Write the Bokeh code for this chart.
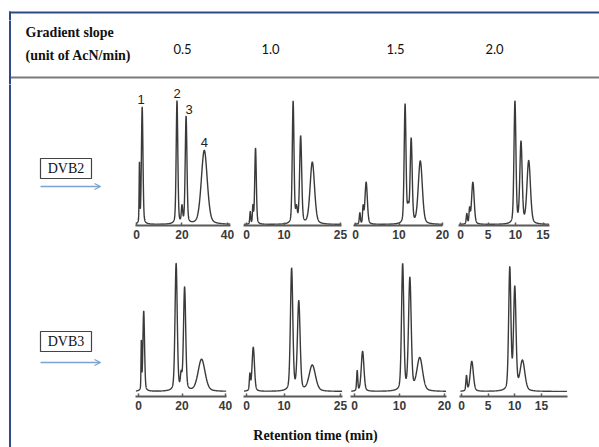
import numpy as np
from bokeh.plotting import figure
from bokeh.layouts import column, row
from bokeh.models import Range1d, FixedTicker, Arrow, OpenHead, ColumnDataSource
from bokeh.embed import file_html
from bokeh.resources import INLINE
from bokeh.core.properties import value

# ---------------- data ----------------
slopes = ["0.5", "1.0", "1.5", "2.0"]
resins = ["DVB2", "DVB3"]
peak_names = ["1", "2", "3", "4"]

ticks_05 = [0, 20, 40]
ticks_10 = [0, 10, 25]
ticks_15 = [0, 10, 20]
ticks_20 = [0, 5, 10, 15]

# DVB2 chromatograms: retention time (min), height (a.u.), FWHM (min)
dvb2_05_t = [1.3, 2.5, 17.8, 20.0, 21.8, 29.8]
dvb2_05_h = [59, 117, 123, 16, 107, 74]
dvb2_05_w = [0.35, 0.8, 0.85, 0.7, 0.9, 3.1]

dvb2_10_t = [1.0, 1.7, 2.4, 12.4, 13.3, 14.4, 17.5]
dvb2_10_h = [12, 17, 76, 122, 14, 87, 62]
dvb2_10_w = [0.3, 0.3, 0.5, 0.55, 0.5, 0.65, 1.4]

dvb2_15_t = [1.0, 1.75, 2.45, 11.4, 12.1, 12.8, 14.9]
dvb2_15_h = [11, 16, 42, 119, 14, 84, 63]
dvb2_15_w = [0.3, 0.3, 0.65, 0.5, 0.4, 0.55, 1.1]

dvb2_20_t = [1.15, 1.65, 2.25, 9.9, 11.0, 12.4]
dvb2_20_h = [10, 14, 42, 122, 81, 63]
dvb2_20_w = [0.25, 0.25, 0.55, 0.42, 0.5, 0.75]

# DVB3 chromatograms
dvb3_05_t = [1.3, 2.4, 17.3, 19.6, 21.2, 29.0]
dvb3_05_h = [47, 80, 127, 14, 103, 32]
dvb3_05_w = [0.35, 0.9, 1.2, 0.8, 1.2, 3.8]

dvb3_10_t = [0.9, 1.8, 12.0, 13.9, 17.5]
dvb3_10_h = [16, 44, 122, 89, 26]
dvb3_10_w = [0.35, 0.75, 0.75, 0.85, 2.0]

dvb3_15_t = [0.6, 1.8, 10.7, 12.3, 14.5]
dvb3_15_h = [20, 40, 126, 112, 33]
dvb3_15_w = [0.3, 0.7, 0.6, 0.7, 1.5]

dvb3_20_t = [0.94, 1.93, 9.06, 10.0, 11.44]
dvb3_20_h = [15, 30, 122, 102, 30]
dvb3_20_w = [0.28, 0.7, 0.5, 0.55, 1.05]

labelled_peaks = [1, 2, 4, 5]   # indices in dvb2_05 of analytes 1-4

# ---------------- helpers ----------------
TOTAL_W, TOTAL_H = 599, 447
LEFT_W = 130
TOPSTRIP_H = 20
HEAD_H = 84
BORDER = "#2f4a86"
SEP = "#7a7a7a"
ARROW = "#7fa0d2"
LINE = "#3a3a3a"
ETA = 0.3
TOP_Y, SEP_Y = 12, 77


def trace(t, tr, h, w):
    y = np.zeros_like(t)
    for c, a, fw in zip(tr, h, w):
        u = (t - c) / fw
        y += a * (ETA / (1 + (2 * u) ** 2) + (1 - ETA) * np.exp(-4 * np.log(2) * u ** 2))
    return y


def pixel_fig(w, h, x0, y0):
    f = figure(width=w, height=h, x_range=Range1d(x0, x0 + w), y_range=Range1d(y0 + h, y0),
               x_axis_type=None, y_axis_type=None, toolbar_location=None,
               output_backend="svg", min_border=0, outline_line_color=None)
    f.background_fill_color = "white"
    f.border_fill_color = "white"
    return f


def vborder(f, y0, y1):
    r = f.quad(left=8.5, right=10.5, top=y0, bottom=y1, fill_color=BORDER, line_color=None)
    r.level = "overlay"


def panel(w, h, ml, mr, mb, xr, yr, ticks, tr, hh, ww):
    f = figure(width=w, height=h, x_range=Range1d(*xr), y_range=Range1d(*yr),
               y_axis_type=None, toolbar_location=None, output_backend="svg",
               min_border_left=ml, min_border_right=mr, min_border_top=0,
               min_border_bottom=mb, outline_line_color=None)
    f.background_fill_color = "white"
    f.border_fill_color = "white"
    f.xgrid.visible = False
    ax = f.xaxis[0]
    ax.ticker = FixedTicker(ticks=ticks)
    ax.axis_line_color = "#5a5a5a"
    ax.axis_line_width = 2
    ax.major_tick_in = 3
    ax.major_tick_out = 0
    ax.major_tick_line_color = "#5a5a5a"
    ax.major_tick_line_width = 1.5
    ax.minor_tick_line_color = None
    ax.major_label_standoff = 4
    ax.major_label_text_font = "Liberation Sans"
    ax.major_label_text_font_style = "bold"
    ax.major_label_text_font_size = "12px"
    ax.major_label_text_color = "#3a3a3a"
    t = np.linspace(xr[0] + 0.15, xr[1] - 0.1, 2500)
    f.line(t, trace(t, tr, hh, ww), line_color=LINE, line_width=1.4)
    return f


# ---------------- top strip: frame top edge ----------------
strip = pixel_fig(TOTAL_W, TOPSTRIP_H, 0, 0)
r = strip.quad(left=8.5, right=TOTAL_W, top=TOP_Y - 1, bottom=TOP_Y + 1, fill_color=BORDER, line_color=None)
r.level = "overlay"
vborder(strip, TOP_Y - 1, TOPSTRIP_H)

# ---------------- header ----------------
head = pixel_fig(TOTAL_W, HEAD_H - TOPSTRIP_H, 0, TOPSTRIP_H)
head.text(x=[25, 25], y=[32, 55], text=["Gradient slope", "(unit of AcN/min)"],
          text_font=value("Liberation Serif"), text_font_style="bold",
          text_font_size="14px", text_align="left", text_baseline="middle", text_color="#111111")
head.text(x=[182, 270, 395, 494], y=[48] * 4, text=slopes,
          text_font=value("Lato"), text_font_size="13px", text_align="center",
          text_baseline="middle", text_color="#111111")
r = head.quad(left=10.5, right=TOTAL_W, top=SEP_Y - 1, bottom=SEP_Y + 1, fill_color=SEP, line_color=None)
r.level = "overlay"
vborder(head, TOPSTRIP_H, HEAD_H)

# ---------------- left body (resin boxes) ----------------
BODY_H = TOTAL_H - HEAD_H
left = pixel_fig(LEFT_W, BODY_H, 0, HEAD_H)
box_y = [168, 341]
arrow_y = [186, 362]
left.quad(left=[40, 40], right=[91, 91], top=[b - 10 for b in box_y], bottom=[b + 10 for b in box_y],
          fill_color=None, line_color="#444444", line_width=1.2)
left.text(x=[65.5, 65.5], y=box_y, text=resins, text_font=value("Liberation Serif"),
          text_font_size="14px", text_align="center", text_baseline="middle", text_color="#111111")
for ay in arrow_y:
    left.add_layout(Arrow(end=OpenHead(size=6, line_color=ARROW, line_width=1.3),
                          x_start=40, y_start=ay, x_end=100, y_end=ay,
                          line_color=ARROW, line_width=1.3))
vborder(left, HEAD_H, TOTAL_H)

# ---------------- chromatogram panels ----------------
RW = TOTAL_W - LEFT_W
H1, H2 = 160, 171
FOOT_H = BODY_H - H1 - H2

yr1 = (-1, 140)
yr2 = (-5, 147)

r1 = [
    panel(108, H1, 5, 8, 19, (-0.44, 41.32), yr1, ticks_05, dvb2_05_t, dvb2_05_h, dvb2_05_w),
    panel(110, H1, 5, 7, 19, (-0.8, 25.26), yr1, ticks_10, dvb2_10_t, dvb2_10_h, dvb2_10_w),
    panel(105, H1, 5, 11, 19, (-0.46, 20.0), yr1, ticks_15, dvb2_15_t, dvb2_15_h, dvb2_15_w),
    panel(146, H1, 5, 50, 19, (-0.364, 16.18), yr1, ticks_20, dvb2_20_t, dvb2_20_h, dvb2_20_w),
]

lab = ColumnDataSource(dict(
    x=[dvb2_05_t[i] for i in labelled_peaks],
    y=[dvb2_05_h[i] for i in labelled_peaks],
    text=peak_names,
    dx=[-1, 0, 3, 0],
))
r1[0].text(x="x", y="y", text="text", x_offset="dx", y_offset=-4, source=lab,
           text_font=value("Liberation Sans"), text_font_size="13px",
           text_align="center", text_baseline="bottom", text_color="#222222")

r2 = [
    panel(108, H2, 5, 12, 19, (-1.38, 40.46), yr2, ticks_05, dvb3_05_t, dvb3_05_h, dvb3_05_w),
    panel(110, H2, 5, 6, 19, (-0.8, 25.53), yr2, ticks_10, dvb3_10_t, dvb3_10_h, dvb3_10_w),
    panel(107, H2, 2, 9, 19, (-0.89, 20.44), yr2, ticks_15, dvb3_15_t, dvb3_15_h, dvb3_15_w),
    panel(144, H2, 4, 32, 19, (-0.375, 19.89), yr2, ticks_20, dvb3_20_t, dvb3_20_h, dvb3_20_w),
]

foot = pixel_fig(RW, FOOT_H, LEFT_W, TOTAL_H - FOOT_H)
foot.text(x=[315], y=[435], text=["Retention time (min)"], text_font=value("Liberation Serif"),
          text_font_style="bold", text_font_size="14px", text_align="center",
          text_baseline="middle", text_color="#111111")

layout = column(strip, head, row(left, column(row(*r1), row(*r2), foot)))

open("out.html", "w").write(file_html(layout, INLINE))
